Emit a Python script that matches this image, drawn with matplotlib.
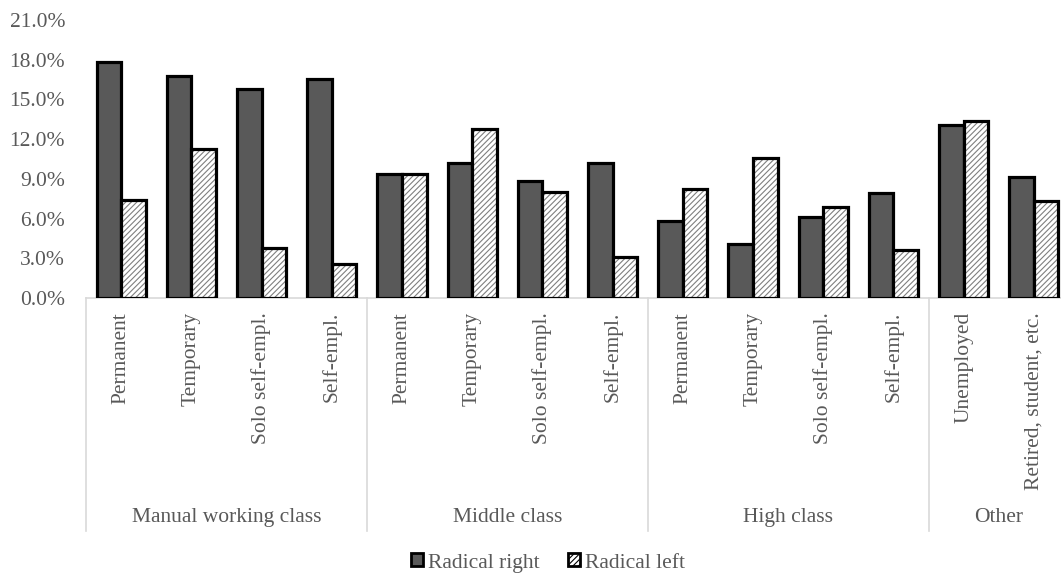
import numpy as np
import matplotlib.pyplot as plt
from matplotlib.patches import Patch
from matplotlib.ticker import FuncFormatter, MultipleLocator

plt.rcParams['font.family'] = ['Liberation Serif', 'DejaVu Serif']
plt.rcParams['hatch.linewidth'] = 0.8

# data
groups = ['Manual working class', 'Middle class', 'High class', 'Other']
group_sizes = [4, 4, 4, 2]
categories = ['Permanent', 'Temporary', 'Solo self-empl.', 'Self-empl.',
              'Permanent', 'Temporary', 'Solo self-empl.', 'Self-empl.',
              'Permanent', 'Temporary', 'Solo self-empl.', 'Self-empl.',
              'Unemployed', 'Retired, student, etc.']
radical_right = [17.85, 16.8, 15.8, 16.55,
                 9.35, 10.2, 8.85, 10.2,
                 5.8, 4.1, 6.15, 7.9,
                 13.05, 9.15]
radical_left = [7.4, 11.25, 3.8, 2.55,
                9.35, 12.8, 8.0, 3.1,
                8.2, 10.6, 6.9, 3.6,
                13.35, 7.3]

text_col = '#595959'
fig = plt.figure(figsize=(10.61, 5.75), dpi=100)
# plot area runs a little past the right edge, as in the reference
ax = fig.add_axes([86/1061, (575-298)/575, 983/1061, (298-20)/575])

x = np.arange(len(categories))
w = 0.35
rr = np.array(radical_right) / 100
rl = np.array(radical_left) / 100

ax.bar(x - w/2, rr, w, color='#595959', edgecolor='black', linewidth=2.3, zorder=3)
# hatch in grey, outline in black drawn on top
ax.bar(x + w/2, rl, w, color='white', edgecolor='#7f7f7f', linewidth=0, hatch='//////', zorder=3)
ax.bar(x + w/2, rl, w, fill=False, edgecolor='black', linewidth=2.3, zorder=4)

ax.set_xlim(-0.5, len(categories) - 0.5)
ax.set_ylim(0, 0.21)
ax.yaxis.set_major_locator(MultipleLocator(0.03))
ax.yaxis.set_major_formatter(FuncFormatter(lambda v, p: f'{v*100:.1f}%'))
ax.tick_params(axis='y', length=0, labelsize=15.5, labelcolor=text_col, pad=15)
ax.set_xticks([])
for s in ['top', 'right', 'left']:
    ax.spines[s].set_visible(False)
ax.spines['bottom'].set_color('#d9d9d9')
ax.spines['bottom'].set_linewidth(1.2)

trans = ax.get_xaxis_transform()
for i, lab in enumerate(categories):
    ax.text(i, -0.05, lab, rotation=90, ha='center', va='top', transform=trans,
            fontsize=15.5, color=text_col)

edges = np.concatenate([[0], np.cumsum(group_sizes)]) - 0.5
for e in edges:
    ax.plot([e, e], [0, -0.838], color='#d9d9d9', lw=1.2, transform=trans, clip_on=False)
for g, a, b in zip(groups, edges[:-1], edges[1:]):
    ax.text((a + b) / 2, -0.79, g, ha='center', va='center', transform=trans,
            fontsize=15.5, color=text_col)

handles = [Patch(facecolor='#595959', edgecolor='black', linewidth=2),
           Patch(facecolor='white', edgecolor='black', linewidth=2, hatch='//////')]
fig.legend(handles, ['Radical right', 'Radical left'], loc='center',
           bbox_to_anchor=(548/1061, 1 - 563/575), ncol=2, frameon=False,
           fontsize=15.5, labelcolor=text_col, handlelength=0.55, handleheight=0.55,
           handletextpad=0.25, columnspacing=1.3)

fig.savefig('out.png', dpi=100)
